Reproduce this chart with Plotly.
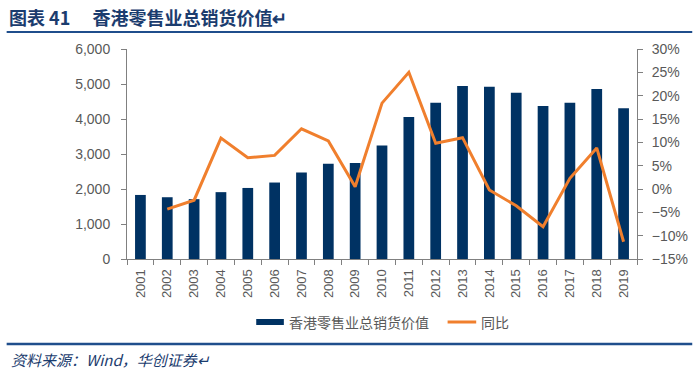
import plotly.graph_objects as go

years = [str(y) for y in range(2001, 2020)]
sales = [1830, 1765, 1710, 1910, 2030, 2185, 2470, 2720, 2740, 3240, 4055,
         4465, 4940, 4920, 4750, 4370, 4465, 4855, 4310]
yoy = [None, -4.3, -2.4, 10.9, 6.7, 7.2, 12.9, 10.3, 0.5, 18.4, 25.0,
       9.8, 11.0, -0.2, -3.6, -8.1, 2.3, 8.8, -11.3]

bar_name = "香港零售业总销货价值"
line_name = "同比"
title_text = "图表 41　 香港零售业总销货价值↵"
source_text = "资料来源：Wind，华创证券↵"

W, H = 700, 373
L, R, T, B = 127, 644, 49, 259
NAVY = "#003263"
ORANGE = "#F07F2D"
GRAY = "#595959"
AXIS = "#808080"
TITLE_BLUE = "#1B3C6E"


def px_x(px):
    return (px - L) / (R - L)


def px_y(py):
    return (B - py) / (B - T)


fig = go.Figure()
fig.add_trace(go.Bar(x=years, y=sales, name=bar_name, marker_color=NAVY,
                     marker_line_width=0, width=0.4, yaxis="y"))
fig.add_trace(go.Scatter(x=years, y=yoy, name=line_name, mode="lines",
                         line=dict(color=ORANGE, width=3), yaxis="y2",
                         connectgaps=False))

font_ax = dict(family="Liberation Sans, Arial, sans-serif", size=14, color=GRAY)

fig.update_layout(
    width=W, height=H,
    margin=dict(l=L, r=W - R, t=T, b=H - B, pad=0),
    paper_bgcolor="white", plot_bgcolor="white",
    showlegend=False,
    bargap=0.6,
    xaxis=dict(type="category", tickangle=-90, tickson="boundaries",
               ticks="outside", ticklen=5, tickcolor=AXIS,
               showline=True, linecolor=AXIS, linewidth=1,
               showgrid=False, tickfont=dict(font_ax, size=13),
               ticklabelstandoff=4),
    yaxis=dict(range=[0, 6000], dtick=1000, tickformat=",",
               ticks="outside", ticklen=5, tickcolor=AXIS,
               showline=True, linecolor=AXIS, linewidth=1,
               showgrid=False, zeroline=False, tickfont=font_ax,
               ticklabelstandoff=8),
    yaxis2=dict(range=[-15, 30], dtick=5, ticksuffix="%",
                overlaying="y", side="right",
                ticks="outside", ticklen=5, tickcolor=AXIS,
                showline=True, linecolor=AXIS, linewidth=1,
                showgrid=False, zeroline=False, tickfont=font_ax,
                ticklabelstandoff=6),
)

shapes = [
    dict(type="line", xref="paper", yref="paper", x0=px_x(5), x1=px_x(700),
         y0=px_y(32), y1=px_y(32), line=dict(color="#1F4E8C", width=2)),
    dict(type="line", xref="paper", yref="paper", x0=px_x(5), x1=px_x(700),
         y0=px_y(344), y1=px_y(344), line=dict(color="#1F4E8C", width=2.5)),
    dict(type="rect", xref="paper", yref="paper", x0=px_x(258), x1=px_x(286),
         y0=px_y(325), y1=px_y(319), fillcolor=NAVY, line_width=0),
    dict(type="line", xref="paper", yref="paper", x0=px_x(452), x1=px_x(481),
         y0=px_y(322), y1=px_y(322), line=dict(color=ORANGE, width=3)),
]
fig.update_layout(shapes=shapes)

annotations = [
    dict(text="<b>" + title_text + "</b>", xref="paper", yref="paper",
         x=px_x(5), y=px_y(17), xanchor="left", yanchor="middle",
         showarrow=False,
         font=dict(family="Noto Sans CJK SC", size=18, color=TITLE_BLUE)),
    dict(text=bar_name, xref="paper", yref="paper",
         x=px_x(289), y=px_y(322), xanchor="left", yanchor="middle",
         showarrow=False,
         font=dict(family="Noto Sans CJK SC", size=14, color=GRAY)),
    dict(text=line_name, xref="paper", yref="paper",
         x=px_x(484), y=px_y(322), xanchor="left", yanchor="middle",
         showarrow=False,
         font=dict(family="Noto Sans CJK SC", size=14, color=GRAY)),
    dict(text="<i>" + source_text + "</i>", xref="paper", yref="paper",
         x=px_x(7), y=px_y(359), xanchor="left", yanchor="middle",
         showarrow=False,
         font=dict(family="Noto Sans CJK SC", size=15, color=TITLE_BLUE)),
]
fig.update_layout(annotations=annotations)

fig.write_html("out.html",
               config={"displayModeBar": False},
               post_script="document.body.style.margin='0';"
                           "document.body.style.padding='0';")
